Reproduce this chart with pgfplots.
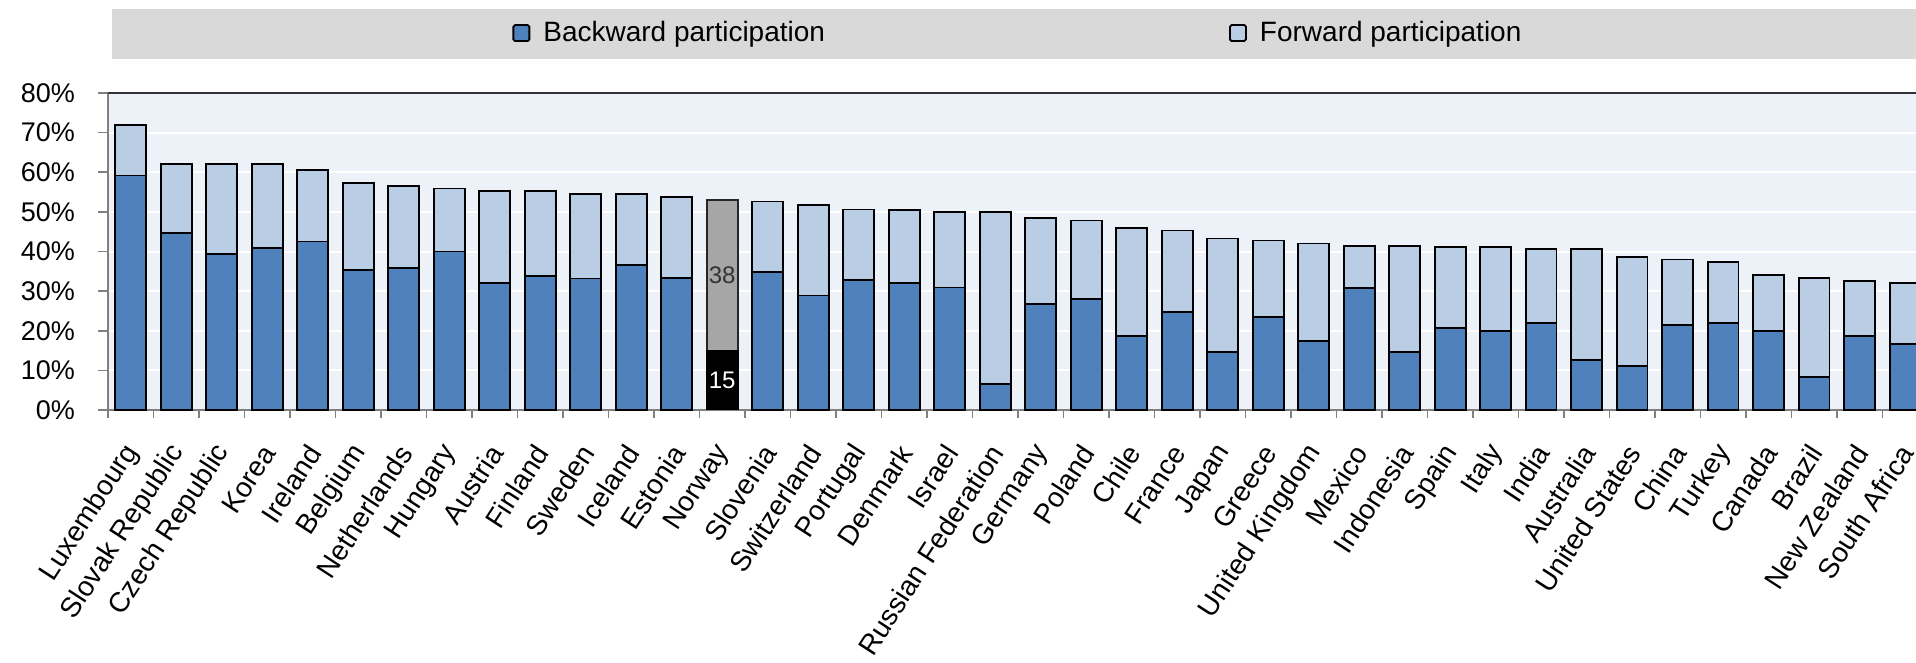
\documentclass[border=0pt]{standalone}
\usepackage{fontspec}
\setmainfont{Liberation Sans}
\usepackage{pgfplots}
\usepackage{pgfplotstable}
\pgfplotsset{compat=1.18}
\definecolor{bwd}{HTML}{4F81BD}
\definecolor{fwd}{HTML}{B9CDE5}
\definecolor{plotbg}{HTML}{EDF1F8}
\definecolor{band}{HTML}{D9D9D9}
\definecolor{nogray}{HTML}{A6A6A6}
\pgfplotstableread{
x back fwd
0 59.2 12.8
1 44.6 17.4
2 39.3 22.7
3 40.8 21.2
4 42.5 18.1
5 35.4 21.9
6 35.9 20.7
7 40.0 15.9
8 32.0 23.3
9 33.9 21.4
10 33.2 21.4
11 36.6 18.0
12 33.3 20.5
13 0 0
14 34.9 17.7
15 28.9 22.9
16 32.8 17.8
17 32.0 18.5
18 30.9 19.1
19 6.5 43.4
20 26.8 21.7
21 28.0 19.8
22 18.7 27.3
23 24.7 20.6
24 14.6 28.7
25 23.4 19.4
26 17.4 24.6
27 30.7 10.6
28 14.7 26.6
29 20.6 20.6
30 19.9 21.3
31 22.0 18.7
32 12.6 28.0
33 11.2 27.4
34 21.5 16.5
35 22.0 15.3
36 19.9 14.1
37 8.4 24.9
38 18.7 13.9
39 16.6 15.4
}\mydata
\pgfplotstableread{
x back fwd total
13 15 38 53
}\norway
\begin{document}
\begin{tikzpicture}
\fill[band] (2pt,175.5pt) rectangle (904pt,200.5pt);
\begin{axis}[
  name=ax,
  at={(0pt,0pt)}, anchor=south west,
  scale only axis, width=904pt, height=158.5pt,
  xmin=-0.5, xmax=39.24, ymin=0, ymax=80,
  ytick={0,10,...,80},
  yticklabel={\pgfmathprintnumber{\tick}\%},
  /pgf/number format/assume math mode=true,
  yticklabel style={font=\fontsize{13.5}{15}\selectfont, xshift=-8pt},
  xtick={0,...,39},
  xticklabels={Luxembourg,Slovak Republic,Czech Republic,Korea,Ireland,Belgium,Netherlands,Hungary,Austria,Finland,Sweden,Iceland,Estonia,Norway,Slovenia,Switzerland,Portugal,Denmark,Israel,Russian Federation,Germany,Poland,Chile,France,Japan,Greece,United Kingdom,Mexico,Indonesia,Spain,Italy,India,Australia,United States,China,Turkey,Canada,Brazil,New Zealand,South Africa},
  xticklabel style={font=\fontsize{14}{16}\selectfont, inner sep=1pt, xshift=1.5pt, yshift=-13pt, rotate=57, anchor=east},
  minor xtick={-0.5,0.5,...,38.5},
  tick align=outside,
  major tick length=5pt, minor tick length=4pt,
  every major x tick/.style={draw=none},
  tick style={gray, line width=0.8pt},
  axis x line*=bottom, axis y line*=left,
  axis line style={gray, line width=1.2pt},
  ymajorgrids, major grid style={white, line width=1pt},
  axis background/.style={fill=plotbg},
  ybar stacked, bar width=0.68,
  legend columns=2,
  legend image code/.code={\path[draw=none, fill=none] (0pt,0pt) -- (13pt,0pt); \draw[#1, rounded corners=0.8pt] (0pt,-4pt) rectangle (8pt,4pt);},
  legend style={at={(0.2235,1.189)}, anchor=west, draw=none, fill=none,
    font=\fontsize{14}{16}\selectfont, inner sep=0pt,
    /tikz/every even column/.append style={column sep=200pt}},
]
\addlegendimage{fill=bwd, draw=black, line width=0.9pt}
\addlegendentry{Backward participation}
\addlegendimage{fill=fwd, draw=black, line width=0.9pt}
\addlegendentry{Forward participation}
\addplot[fill=bwd, draw=black, line width=0.9pt] table[x=x, y=back] {\mydata};
\addplot[fill=fwd, draw=black, line width=0.9pt] table[x=x, y=fwd] {\mydata};
\end{axis}
\begin{axis}[
  at={(0pt,0pt)}, anchor=south west,
  scale only axis, width=904pt, height=158.5pt,
  xmin=-0.5, xmax=39.24, ymin=0, ymax=80,
  hide axis,
]
\addplot[ybar, bar width=0.68, bar shift=0pt, fill=nogray, draw=black!85, line width=0.9pt] table[x=x, y=total] {\norway};
\addplot[ybar, bar width=0.68, bar shift=0pt, fill=black, draw=black, line width=0.9pt] table[x=x, y=back] {\norway};
\addplot[draw=none, mark=none, nodes near coords, point meta=explicit symbolic,
  every node near coord/.style={anchor=center, font=\fontsize{12}{14}\selectfont, text=black!80}]
  coordinates {(13,34) [38]};
\addplot[draw=none, mark=none, nodes near coords, point meta=explicit symbolic,
  every node near coord/.style={anchor=center, font=\fontsize{12}{14}\selectfont, text=white}]
  coordinates {(13,7.5) [15]};
\end{axis}
\draw[black!80, line width=1pt] (ax.north west) -- (ax.north east);
\pgfresetboundingbox
\useasboundingbox (-54pt,-126.5pt) rectangle (904pt,205pt);
\end{tikzpicture}
\end{document}
